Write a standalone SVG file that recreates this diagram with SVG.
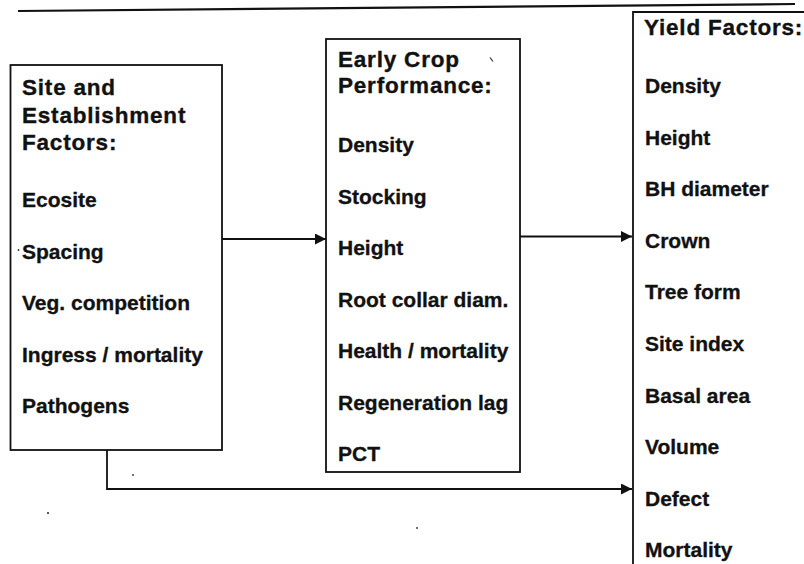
<svg xmlns="http://www.w3.org/2000/svg" width="804" height="564" viewBox="0 0 804 564">
  <style>
    .box { fill: none; stroke: #111; stroke-width: 1.8; }
    .rule { stroke: #111; stroke-width: 2.2; fill: none; }
    .wire { fill: none; stroke: #111; stroke-width: 1.8; }
    .title { font-family: "Liberation Sans", Arial, Helvetica, sans-serif; font-weight: bold; font-size: 22.5px; letter-spacing: 0.8px; fill: #111; stroke: #111; stroke-width: 0.35; }
    .item { font-family: "Liberation Sans", Arial, Helvetica, sans-serif; font-weight: bold; font-size: 21px; fill: #111; stroke: #111; stroke-width: 0.3; }
    .speck { fill: #333; }
  </style>
  <defs>
    <marker id="arrow" markerWidth="11" markerHeight="11" refX="11" refY="5.5" orient="auto" markerUnits="userSpaceOnUse">
      <path d="M0,0 L11,5.5 L0,11 Z" fill="#111"/>
    </marker>
  </defs>

  <rect width="804" height="564" fill="#fff"/>

  <!-- header rule -->
  <line class="rule" x1="18" y1="11" x2="795" y2="4"/>

  <!-- site and establishment factors -->
  <g id="site-factors">
    <rect class="box" x="10.5" y="65" width="211.5" height="385"/>
    <text class="title" x="22" y="95">Site and</text>
    <text class="title" x="22" y="122.5">Establishment</text>
    <text class="title" x="22" y="150">Factors:</text>
    <text class="item" x="22" y="207">Ecosite</text>
    <text class="item" x="22" y="258.5">Spacing</text>
    <text class="item" x="22" y="310">Veg. competition</text>
    <text class="item" x="22" y="361.5">Ingress / mortality</text>
    <text class="item" x="22" y="413">Pathogens</text>
  </g>

  <!-- early crop performance -->
  <g id="early-crop">
    <rect class="box" x="326" y="39" width="194" height="433"/>
    <text class="title" x="338" y="67">Early Crop</text>
    <text class="title" x="338" y="93">Performance:</text>
    <text class="item" x="338" y="152">Density</text>
    <text class="item" x="338" y="203.5">Stocking</text>
    <text class="item" x="338" y="255">Height</text>
    <text class="item" x="338" y="306.5">Root collar diam.</text>
    <text class="item" x="338" y="358">Health / mortality</text>
    <text class="item" x="338" y="409.5">Regeneration lag</text>
    <text class="item" x="338" y="461">PCT</text>
  </g>

  <!-- yield factors (box runs past the right and bottom edges) -->
  <g id="yield-factors">
    <path class="box" d="M633,570 L633,12 L810,12"/>
    <text class="title" x="644" y="35">Yield Factors:</text>
    <text class="item" x="645" y="93">Density</text>
    <text class="item" x="645" y="144.6">Height</text>
    <text class="item" x="645" y="196.2">BH diameter</text>
    <text class="item" x="645" y="247.8">Crown</text>
    <text class="item" x="645" y="299.4">Tree form</text>
    <text class="item" x="645" y="351">Site index</text>
    <text class="item" x="645" y="402.6">Basal area</text>
    <text class="item" x="645" y="454.2">Volume</text>
    <text class="item" x="645" y="505.8">Defect</text>
    <text class="item" x="645" y="557.4">Mortality</text>
  </g>

  <!-- connectors -->
  <g id="connectors">
    <path class="wire" d="M222,239 L326,239" marker-end="url(#arrow)"/>
    <path class="wire" d="M520,236.5 L632,236.5" marker-end="url(#arrow)"/>
    <path class="wire" d="M107,450 L107,489 L632,489" marker-end="url(#arrow)"/>
  </g>

  <!-- stray marks -->
  <g id="specks">
    <path d="M490,57.5 L493,61.5" stroke="#333" stroke-width="1.2"/>
    <circle class="speck" cx="18.5" cy="250" r="0.9"/>
    <circle class="speck" cx="133" cy="475" r="0.9"/>
    <circle class="speck" cx="48" cy="513" r="1.1"/>
    <circle class="speck" cx="417" cy="528" r="0.9"/>
  </g>
</svg>
